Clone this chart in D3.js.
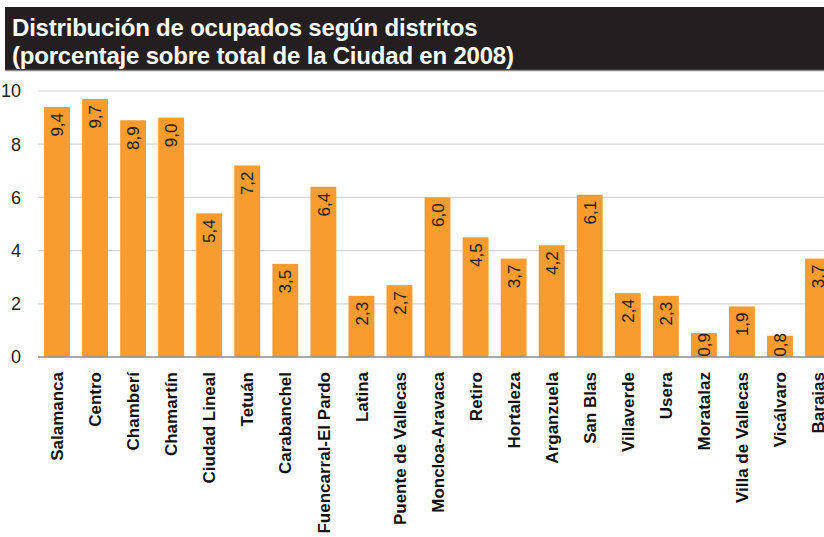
<!DOCTYPE html>
<html>
<head>
<meta charset="utf-8">
<script src="https://cdn.jsdelivr.net/npm/d3@7"></script>
<style>
  body { margin: 0; background: #fff; }
  svg { display: block; font-family: "Liberation Sans", Arial, Helvetica, sans-serif; }
</style>
</head>
<body>
<svg id="chart"></svg>
<script>
// districts and share of employed (%) in 2008
const districts = ['Salamanca', 'Centro', 'Chamberí', 'Chamartín', 'Ciudad Lineal', 'Tetuán',
  'Carabanchel', 'Fuencarral-El Pardo', 'Latina', 'Puente de Vallecas', 'Moncloa-Aravaca',
  'Retiro', 'Hortaleza', 'Arganzuela', 'San Blas', 'Villaverde', 'Usera', 'Moratalaz',
  'Villa de Vallecas', 'Vicálvaro', 'Barajas'];
const shares = [9.4, 9.7, 8.9, 9.0, 5.4, 7.2, 3.5, 6.4, 2.3, 2.7, 6.0, 4.5, 3.7, 4.2, 6.1,
  2.4, 2.3, 0.9, 1.9, 0.8, 3.7];
const yTicks = [0, 2, 4, 6, 8, 10];
const titleLines = ['Distribución de ocupados según distritos',
  '(porcentaje sobre total de la Ciudad en 2008)'];

const width = 824, height = 537;

const svg = d3.select('#chart')
  .attr('width', width)
  .attr('height', height);

// title bar
svg.append('rect')
  .attr('x', 5).attr('y', 7)
  .attr('width', width - 5).attr('height', 63)
  .attr('fill', '#231f20');
svg.append('line')
  .attr('x1', 5).attr('x2', width)
  .attr('y1', 70.5).attr('y2', 70.5)
  .attr('stroke', '#8a8a8a').attr('stroke-width', 1.5);

svg.selectAll('.title')
  .data(titleLines)
  .enter()
  .append('text')
  .attr('class', 'title')
  .attr('x', 12)
  .attr('y', (d, i) => 36 + i * 28)
  .attr('fill', '#fff')
  .style('font-size', '24px')
  .style('font-weight', 'bold')
  .style('letter-spacing', '-0.2px')
  .text(d => d);

// scales
let x = d3.scaleBand()
  .domain(districts)
  .range([38, 38 + 38.05 * 21])
  .paddingInner(0.32)
  .paddingOuter(0.16);

let y = d3.scaleLinear()
  .domain([0, 10])
  .range([357, 91]);

// grid
svg.append('g')
  .selectAll('line')
  .data(yTicks.filter(t => t > 0))
  .enter()
  .append('line')
  .attr('x1', 38).attr('x2', width)
  .attr('y1', d => y(d)).attr('y2', d => y(d))
  .attr('stroke', '#d6d6d6')
  .attr('stroke-width', 1.2);

// y tick labels
svg.append('g')
  .selectAll('text')
  .data(yTicks)
  .enter()
  .append('text')
  .attr('x', 21)
  .attr('y', d => y(d))
  .attr('dy', '0.36em')
  .attr('text-anchor', 'end')
  .attr('fill', '#231f20')
  .style('font-size', '18px')
  .text(d => d);

// bars
svg.append('g')
  .selectAll('rect')
  .data(shares)
  .enter()
  .append('rect')
  .attr('x', (d, i) => x(districts[i]))
  .attr('y', d => y(d))
  .attr('width', x.bandwidth())
  .attr('height', d => y(0) - y(d))
  .attr('fill', '#f89c30');

// baseline
svg.append('line')
  .attr('x1', 38).attr('x2', width)
  .attr('y1', y(0)).attr('y2', y(0))
  .attr('stroke', '#8c8c8c')
  .attr('stroke-width', 1.6);

// value labels, rotated inside the bars
const fmt = v => d3.format('.1f')(v).replace('.', ',');
svg.append('g')
  .selectAll('text')
  .data(shares)
  .enter()
  .append('text')
  .attr('transform', (d, i) => {
    let cx = x(districts[i]) + x.bandwidth() / 2;
    let top = Math.min(y(d) + 6, y(0) - 24);
    return 'translate(' + cx + ',' + top + ') rotate(-90)';
  })
  .attr('text-anchor', 'end')
  .attr('dy', '0.36em')
  .attr('fill', '#231f20')
  .style('font-size', '17px')
  .text(d => fmt(d));

// category labels
svg.append('g')
  .selectAll('text')
  .data(districts)
  .enter()
  .append('text')
  .attr('transform', d => 'translate(' + (x(d) + x.bandwidth() / 2) + ',372) rotate(-90)')
  .attr('text-anchor', 'end')
  .attr('dy', '0.36em')
  .attr('fill', '#111')
  .style('font-size', '17px')
  .style('font-weight', 'bold')
  .text(d => d);
</script>
</body>
</html>
